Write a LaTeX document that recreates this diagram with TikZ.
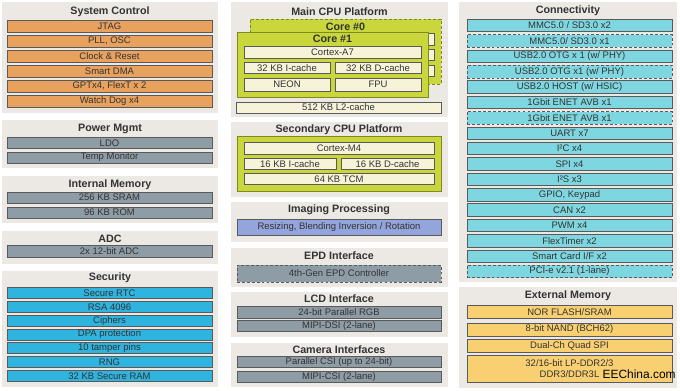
\documentclass[tikz,border=0pt]{standalone}
\usepackage{fontspec}
\setmainfont{Liberation Sans}
\usepackage{xcolor}
\usetikzlibrary{positioning}

\definecolor{panelbg}{HTML}{ECE9E5}
\definecolor{textdark}{HTML}{333333}
\definecolor{bardraw}{HTML}{5A5A5A}
\definecolor{sysorange}{HTML}{E9A15E}
\definecolor{slate}{HTML}{8E9CA6}
\definecolor{secblue}{HTML}{2FB4E0}
\definecolor{concyan}{HTML}{7ED7E0}
\definecolor{coregreen}{HTML}{C9D63C}
\definecolor{coreline}{HTML}{7E8A1E}
\definecolor{cream}{HTML}{F6F3D9}
\definecolor{imgblue}{HTML}{94A5DD}
\definecolor{memyellow}{HTML}{F8D072}

\begin{document}
\begin{tikzpicture}[x=0.02cm, y=-0.02cm,
    panel/.style={fill=panelbg},
    title/.style={inner sep=0pt, text=textdark, font=\fontsize{6.1}{7}\selectfont\bfseries},
    bar/.style={draw=bardraw, line width=0.35pt, inner sep=0pt, text=textdark,
        font=\fontsize{5.4}{6.2}\selectfont, minimum height=0.23cm, minimum width=4.1cm},
    optline/.style={dashed, dash pattern=on 1.6pt off 1.2pt},
    sysbar/.style={bar, fill=sysorange, minimum height=0.24cm},
    greybar/.style={bar, fill=slate, minimum height=0.22cm},
    secbar/.style={bar, fill=secblue, minimum height=0.22cm},
    conbar/.style={bar, fill=concyan, minimum height=0.25cm},
    optcon/.style={conbar, optline},
    membar/.style={bar, fill=memyellow, minimum height=0.26cm},
    midbar/.style={bar, minimum width=4.08cm},
    cachebar/.style={bar, fill=cream},
    corebox/.style={fill=coregreen, draw=coreline, line width=0.5pt,
        minimum width=3.82cm, minimum height=1.3cm, inner sep=0pt}
]

    % 1. Page and panel backgrounds
    \useasboundingbox (0,0) rectangle (680,390);
    \fill[white] (0,0) rectangle (680,390);

    \fill[panel] (2,2) rectangle (218,113);
    \fill[panel] (2,120) rectangle (218,168);
    \fill[panel] (2,176) rectangle (218,223);
    \fill[panel] (2,231) rectangle (218,264);
    \fill[panel] (2,271) rectangle (218,387);

    \fill[panel] (231,2) rectangle (448,117);
    \fill[panel] (231,122) rectangle (448,197);
    \fill[panel] (231,202) rectangle (448,242);
    \fill[panel] (231,248) rectangle (448,287);
    \fill[panel] (231,292) rectangle (448,337);
    \fill[panel] (231,343) rectangle (448,387);

    \fill[panel] (459,2) rectangle (677,282);
    \fill[panel] (459,287) rectangle (677,388);

    % 2. Left column
    \node[title] (sysT) at (110,12) {System Control};
    \foreach \lbl [count=\i from 0] in {JTAG, {PLL, OSC}, Clock \& Reset, Smart DMA,
        {GPTx4, FlexT x 2}, Watch Dog x4}
        \node[sysbar] (sys\i) at (109.5,26+15*\i) {\lbl};

    \node[title] (pwrT) at (110,129) {Power Mgmt};
    \node[greybar] (ldo) at (109.5,143) {LDO};
    \node[greybar] (temp) at (109.5,157.5) {Temp Monitor};

    \node[title] (memT) at (110,185) {Internal Memory};
    \node[greybar] (sram) at (109.5,197.5) {256 KB SRAM};
    \node[greybar] (rom) at (109.5,212.5) {96 KB ROM};

    \node[title] (adcT) at (110,239) {ADC};
    \node[greybar, minimum height=0.25cm] (adc) at (109.5,251.5) {2x 12-bit ADC};

    \node[title] (secT) at (110,278) {Security};
    \foreach \lbl [count=\i from 0] in {Secure RTC, RSA 4096, Ciphers, DPA protection,
        10 tamper pins, RNG, 32 KB Secure RAM}
        \node[secbar] (sec\i) at (109.5,293+13.8*\i) {\lbl};

    % 3. Main CPU platform, Core #0 sits behind Core #1
    \node[title] (cpuT) at (339.5,12) {Main CPU Platform};
    \node[corebox, optline] (core0) at (345.5,51.5) {};
    \node[title] (core0T) at (345.5,27) {Core \#0};
    \node[cachebar, minimum width=3.54cm] (a7b) at (345.5,39.5) {};
    \node[cachebar, minimum width=1.72cm] (icb) at (300,55) {};
    \node[cachebar, minimum width=1.72cm] (dcb) at (391,55) {};
    \node[cachebar, minimum width=1.72cm] (neonb) at (300,71) {};
    \node[cachebar, minimum width=1.72cm] (fpub) at (391,71) {};

    \node[corebox] (core1) at (332.5,64.5) {};
    \node[title] (core1T) at (332.5,39) {Core \#1};
    \node[cachebar, minimum width=3.54cm] (a7) at (332.5,52.5) {Cortex-A7};
    \node[cachebar, minimum width=1.72cm] (icache) at (287,68) {32 KB I-cache};
    \node[cachebar, minimum width=1.72cm] (dcache) at (378,68) {32 KB D-cache};
    \node[cachebar, minimum width=1.72cm, minimum height=0.26cm] (neon) at (287,84.5) {NEON};
    \node[cachebar, minimum width=1.72cm, minimum height=0.26cm] (fpu) at (378,84.5) {FPU};
    \node[cachebar, minimum width=4.1cm, minimum height=0.22cm] (l2) at (338.5,107.5) {512 KB L2-cache};

    % 4. Secondary CPU platform
    \node[title] (cpu2T) at (339,130) {Secondary CPU Platform};
    \node[corebox, minimum width=4.08cm, minimum height=1.1cm] (m4box) at (339,163.5) {};
    \node[cachebar, minimum width=3.8cm] (m4) at (339,148.5) {Cortex-M4};
    \node[cachebar, minimum width=1.84cm] (icache2) at (290,164) {16 KB I-cache};
    \node[cachebar, minimum width=1.86cm] (dcache2) at (387.5,164) {16 KB D-cache};
    \node[cachebar, minimum width=3.8cm] (tcm) at (339,179) {64 KB TCM};

    % 5. Imaging, EPD, LCD and camera
    \node[title] (imgT) at (339,210) {Imaging Processing};
    \node[midbar, fill=imgblue, minimum height=0.32cm] (img) at (339,227)
        {Resizing, Blending Inversion / Rotation};

    \node[title] (epdT) at (339,256) {EPD Interface};
    \node[midbar, fill=slate, optline, minimum height=0.34cm] (epd) at (339,273.5)
        {4th-Gen EPD Controller};

    \node[title] (lcdT) at (339,299) {LCD Interface};
    \node[midbar, fill=slate] (rgb) at (339,312.5) {24-bit Parallel RGB};
    \node[midbar, fill=slate] (dsi) at (339,326) {MIPI-DSI (2-lane)};

    \node[title] (camT) at (339,350) {Camera Interfaces};
    \node[midbar, fill=slate] (csi) at (339,362) {Parallel CSI (up to 24-bit)};
    \node[midbar, fill=slate] (mcsi) at (339,377) {MIPI-CSI (2-lane)};

    % 6. Right column
    \node[title] (conT) at (568,11) {Connectivity};
    \foreach \lbl/\sty [count=\i from 0] in {{MMC5.0 / SD3.0 x2}/conbar,
        {MMC5.0/ SD3.0 x1}/optcon, {USB2.0 OTG x 1 (w/ PHY)}/conbar,
        {USB2.0 OTG x1 (w/ PHY)}/optcon, {USB2.0 HOST (w/ HSIC)}/conbar,
        {1Gbit ENET AVB x1}/conbar, {1Gbit ENET AVB x1}/optcon, {UART x7}/conbar,
        {I²C x4}/conbar, {SPI x4}/conbar, {I²S x3}/conbar, {GPIO, Keypad}/conbar,
        {CAN x2}/conbar, {PWM x4}/conbar, {FlexTimer x2}/conbar,
        {Smart Card I/F x2}/conbar, {PCI-e v2.1 (1-lane)}/optcon}
        \node[\sty] (con\i) at (569.5,25.5+15.375*\i) {\lbl};

    \node[title] (extT) at (568,296) {External Memory};
    \node[membar] (nor) at (569.5,312) {NOR FLASH/SRAM};
    \node[membar] (nand) at (569.5,329.5) {8-bit NAND (BCH62)};
    \node[membar] (qspi) at (569.5,345.5) {Dual-Ch Quad SPI};
    \node[membar, minimum height=0.54cm, align=center] (ddr) at (569.5,368.5)
        {32/16-bit LP-DDR2/3\\DDR3/DDR3L};

    % 7. Watermark
    \node[anchor=east, inner sep=0pt, font=\fontsize{6.8}{8}\selectfont] (mark)
        at (676,374) {EEChina.com};

\end{tikzpicture}
\end{document}
